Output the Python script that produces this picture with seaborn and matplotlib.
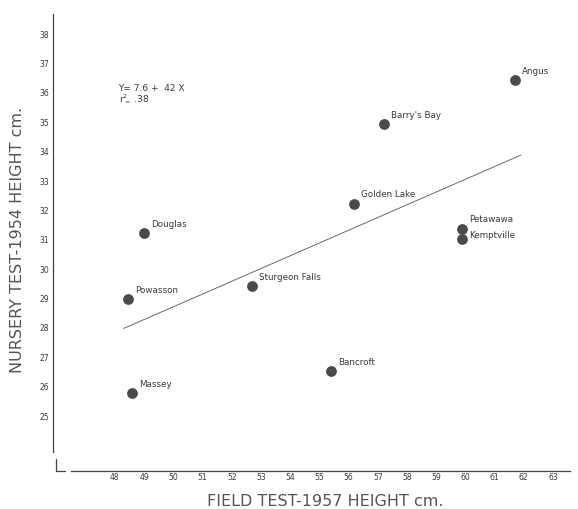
import matplotlib.pyplot as plt
import numpy as np
import pandas as pd
import seaborn as sns
from matplotlib.lines import Line2D

# provenance points
stations = ["Douglas", "Powasson", "Massey", "Angus", "Barry's Bay", "Golden Lake",
            "Petawawa", "Kemptville", "Sturgeon Falls", "Bancroft"]
field_1957 = [49.0, 48.45, 48.6, 61.7, 57.2, 56.2, 59.9, 59.9, 52.7, 55.4]
nursery_1954 = [31.2, 28.95, 25.75, 36.4, 34.9, 32.2, 31.35, 31.0, 29.4, 26.5]
label_dy = [7, 7, 7, 7, 7, 7, 7, 3, 7, 7]

# regression line end points as drawn
line_x = [48.3, 61.9]
line_y = [27.95, 33.85]

x_ticks = list(range(48, 64))
y_ticks = list(range(25, 39))

INK = "#3a3a3a"

sns.set_style("white")
plt.rcParams["font.family"] = ["DejaVu Sans"]

df = pd.DataFrame({"field": field_1957, "nursery": nursery_1954, "station": stations})

fig = plt.figure(figsize=(5.78, 5.10), dpi=100)
ax = fig.add_axes([0.0917, 0.0745, 0.8943, 0.8961])

ax.plot(line_x, line_y, color="#6a6a6a", linewidth=0.7)
sns.scatterplot(data=df, x="field", y="nursery", ax=ax, s=60, color="#4a4a4a",
                edgecolor="#4a4a4a", linewidth=0, zorder=3)

for name, fx, ny, dy in zip(df["station"], df["field"], df["nursery"], label_dy):
    ax.annotate(name, (fx, ny), xytext=(5, dy), textcoords="offset points",
                fontsize=6.3, color=INK, ha="left", va="center")

ax.text(48.1, 36.15, "Y= 7.6 +  42 X", fontsize=6.5, color=INK, va="center")
ax.text(48.15, 35.8, "r$^2_=$ .38", fontsize=6.5, color=INK, va="center")

ax.set_xlim(45.88, 63.58)
ax.set_ylim(23.1, 38.65)
ax.set_xticks(x_ticks)
ax.set_yticks(y_ticks)
ax.tick_params(axis="y", labelsize=5.5, colors=INK, length=2, width=0.6, pad=1)
ax.tick_params(axis="x", labelsize=5.5, colors=INK, length=0, pad=1)

for side in ["top", "right"]:
    ax.spines[side].set_visible(False)
ax.spines["left"].set_bounds(23.75, 38.65)
ax.spines["bottom"].set_bounds(46.5, 63.58)
for side in ["left", "bottom"]:
    ax.spines[side].set_color("#444444")
    ax.spines[side].set_linewidth(0.9)

# small corner mark where the axes would meet
ax.add_line(Line2D([0.006, 0.006, 0.023], [0.026, 0.0, 0.0], transform=ax.transAxes,
                   color="#444444", linewidth=0.9, clip_on=False))

ax.set_xlabel("FIELD TEST-1957 HEIGHT cm.", fontsize=11.5, color="#555555")
ax.set_ylabel("NURSERY TEST-1954 HEIGHT cm.", fontsize=11.5, color="#555555")
ax.xaxis.set_label_coords(0.527, -0.048)
ax.yaxis.set_label_coords(-0.054, 0.508)

fig.savefig("out.png", dpi=100)
plt.close(fig)
